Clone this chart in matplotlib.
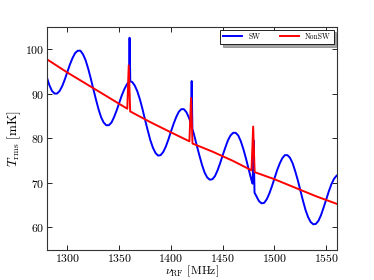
import numpy as np
import matplotlib
matplotlib.use("Agg")
import matplotlib.pyplot as plt

# ── Data ──────────────────────────────────────────────────────────────────────
freq_sw = [1280, 1282.5, 1285, 1287.5, 1290, 1292.5, 1295, 1297.5,
           1300, 1302.5, 1305, 1307.5, 1310, 1312.5, 1315, 1317.5,
           1320, 1322.5, 1325, 1327.5, 1330, 1332.5, 1335, 1337.5,
           1340, 1342.5, 1345, 1347.5, 1350, 1352.5, 1355, 1357.5,
           1359.3, 1360.0, 1360.7, 1362.5, 1365, 1367.5, 1370, 1372.5,
           1375, 1377.5, 1380, 1382.5, 1385, 1387.5, 1390, 1392.5,
           1395, 1397.5, 1400, 1402.5, 1405, 1407.5, 1410, 1412.5,
           1415, 1417.5, 1419.3, 1420.0, 1420.7, 1422.5, 1425, 1427.5,
           1430, 1432.5, 1435, 1437.5, 1440, 1442.5, 1445, 1447.5,
           1450, 1452.5, 1455, 1457.5, 1460, 1462.5, 1465, 1467.5,
           1470, 1472.5, 1475, 1477.5, 1478.9, 1479.8, 1480.7, 1482.5,
           1485, 1487.5, 1490, 1492.5, 1495, 1497.5, 1500, 1502.5,
           1505, 1507.5, 1510, 1512.5, 1515, 1517.5, 1520, 1522.5,
           1525, 1527.5, 1530, 1532.5, 1535, 1537.5, 1540, 1542.5,
           1545, 1547.5, 1550, 1552.5, 1555, 1557.5, 1560]
temp_sw = [93.7, 91.9, 90.6, 90.0, 90.0, 90.6, 91.7, 93.2,
           94.9, 96.6, 98.0, 99.1, 99.6, 99.6, 98.8, 97.5,
           95.6, 93.4, 91.0, 88.7, 86.5, 84.7, 83.5, 82.9,
           82.9, 83.5, 84.7, 86.2, 87.9, 89.6, 91.0, 92.1,
           92.6, 102.5, 92.7, 92.6, 91.8, 90.5, 88.7, 86.5,
           84.1, 81.8, 79.6, 77.9, 76.7, 76.1, 76.2, 76.9,
           78.1, 79.7, 81.5, 83.2, 84.7, 85.9, 86.5, 86.5,
           85.8, 84.5, 83.3, 92.8, 82.1, 80.6, 78.3, 76.1,
           74.0, 72.3, 71.2, 70.7, 70.8, 71.5, 72.8, 74.4,
           76.2, 77.9, 79.5, 80.6, 81.2, 81.2, 80.6, 79.3,
           77.5, 75.4, 73.1, 70.8, 69.8, 79.5, 67.8, 67.0,
           65.9, 65.4, 65.5, 66.3, 67.6, 69.2, 71.0, 72.8,
           74.3, 75.5, 76.2, 76.2, 75.6, 74.4, 72.6, 70.6,
           68.3, 66.0, 63.9, 62.3, 61.2, 60.7, 60.8, 61.5,
           62.8, 64.5, 66.3, 68.1, 69.7, 70.9, 71.6]

freq_nonsw = [1280, 1300, 1320, 1340, 1357.8, 1359.2, 1360.6, 1380, 1400,
              1417.8, 1419.4, 1420.8, 1440, 1460, 1477.8, 1479.4, 1480.8,
              1500, 1520, 1540, 1560]
temp_nonsw = [97.7, 94.7, 91.9, 89.1, 86.6, 96.3, 86.0, 83.6, 81.3,
              79.3, 89.0, 78.8, 77.0, 74.9, 72.8, 82.6, 72.4,
              70.8, 68.9, 67.0, 65.3]

# ── Style ─────────────────────────────────────────────────────────────────────
plt.rcParams["font.family"] = "cmr10"
plt.rcParams["mathtext.fontset"] = "cm"
plt.rcParams["axes.formatter.use_mathtext"] = True

fig = plt.figure(figsize=(3.74, 2.80), dpi=100)
ax = fig.add_axes([0.125, 0.108, 0.775, 0.797])

ax.plot(freq_sw, temp_sw, color="#0000ff", lw=1.4, label="SW")
ax.plot(freq_nonsw, temp_nonsw, color="#ff0000", lw=1.4, label="NonSW")

ax.set_xlim(1280, 1560)
ax.set_ylim(55, 105)
ax.set_xticks([1300, 1350, 1400, 1450, 1500, 1550])
ax.set_yticks([60, 70, 80, 90, 100])
ax.tick_params(direction="in", top=True, right=True, length=3.5,
               width=0.6, labelsize=8.5, pad=1.5)
for s in ax.spines.values():
    s.set_linewidth(0.8)
    s.set_color("#333333")

ax.set_xlabel(r"$\nu_{\rm RF}$ [MHz]", fontsize=8.5, va="bottom")
ax.xaxis.set_label_coords(0.5, -0.129)
ax.set_ylabel(r"$T_{\rm rms}$ [mK]", fontsize=9.5, labelpad=2)

leg = ax.legend(loc="upper right", ncol=2, fontsize=5.5, shadow=True,
                fancybox=False, handlelength=2.5, columnspacing=2.5,
                borderpad=0.4, borderaxespad=0.4, framealpha=1)
leg.get_frame().set_edgecolor("black")
leg.get_frame().set_linewidth(0.6)

fig.savefig("out.png", dpi=100)
